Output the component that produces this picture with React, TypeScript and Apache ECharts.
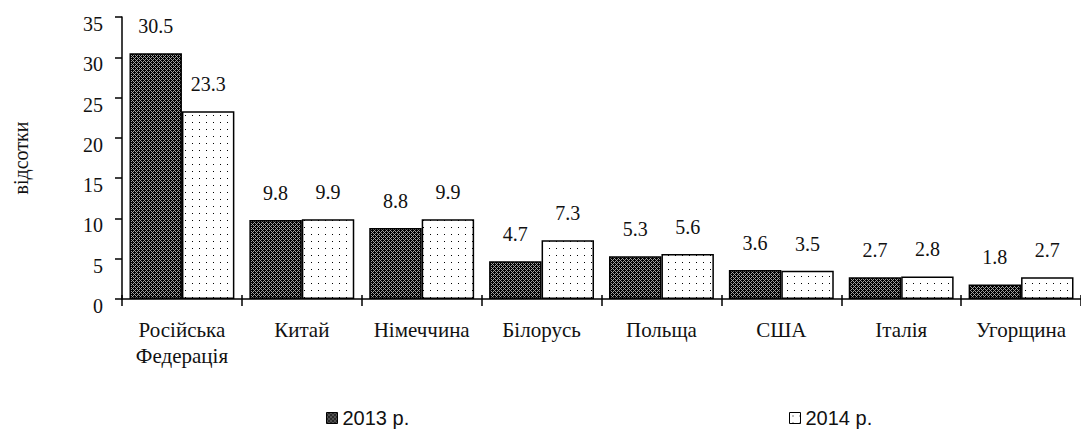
import React, { useEffect, useRef } from "react";
import * as echarts from "echarts";

const categories = ["Російська\nФедерація", "Китай", "Німеччина", "Білорусь", "Польща", "США", "Італія", "Угорщина"];
const values2013 = [30.5, 9.8, 8.8, 4.7, 5.3, 3.6, 2.7, 1.8];
const values2014 = [23.3, 9.9, 9.9, 7.3, 5.6, 3.5, 2.8, 2.7];
const seriesNames = ["2013 р.", "2014 р."];
const yTicks = { min: 0, max: 35, interval: 5 };

function darkPattern(): HTMLCanvasElement {
  const c = document.createElement("canvas");
  c.width = 4;
  c.height = 4;
  const ctx = c.getContext("2d")!;
  ctx.fillStyle = "#000";
  ctx.fillRect(0, 0, 4, 4);
  ctx.fillStyle = "#a0a0a0";
  for (let x = 0; x < 4; x++) {
    for (let y = 0; y < 4; y++) {
      if ((x + y) % 4 === 0 || (x - y + 4) % 4 === 0) ctx.fillRect(x, y, 1, 1);
    }
  }
  return c;
}

function dotPattern(): HTMLCanvasElement {
  const c = document.createElement("canvas");
  c.width = 7;
  c.height = 7;
  const ctx = c.getContext("2d")!;
  ctx.fillStyle = "#fff";
  ctx.fillRect(0, 0, 7, 7);
  ctx.fillStyle = "#000";
  ctx.fillRect(3, 3, 1, 1);
  return c;
}

export default function App() {
  const ref = useRef<HTMLDivElement>(null);
  useEffect(() => {
    if (!ref.current) return;
    const chart = echarts.init(ref.current, undefined, { renderer: "svg" });
    const serif = "Liberation Serif";
    const sans = "Liberation Sans";
    const pats = [
      { image: darkPattern(), repeat: "repeat" },
      { image: dotPattern(), repeat: "repeat" },
    ];
    const mk = (name: string, data: number[], i: number) => ({
      name,
      type: "bar",
      data,
      barGap: "0%",
      barCategoryGap: "12.5%",
      itemStyle: { color: pats[i] as any, borderColor: "#000", borderWidth: 1.5 },
      label: {
        show: true,
        position: "top",
        distance: 17,
        fontFamily: serif,
        fontSize: 20,
        color: "#111",
        formatter: (p: any) => Number(p.value).toFixed(1),
      },
    });
    const legendBase = {
      top: 403,
      itemWidth: 11,
      itemHeight: 11,
      icon: "rect",
      itemGap: 5,
      itemStyle: { borderColor: "#000", borderWidth: 1 },
      textStyle: { fontFamily: sans, fontSize: 20, color: "#111" },
    };
    chart.setOption({
      animation: false,
      backgroundColor: "#fff",
      grid: { left: 122, right: 0, top: 17, bottom: 131 },
      legend: [
        { ...legendBase, data: [seriesNames[0]], left: 321 },
        { ...legendBase, data: [seriesNames[1]], left: 784 },
      ],
      xAxis: [
        {
          type: "category",
          position: "bottom",
          data: categories,
          axisLine: { lineStyle: { color: "#000", width: 1.5 } },
          axisTick: { show: true, length: 7, lineStyle: { color: "#000", width: 1.5 } },
          axisLabel: { interval: 0, fontFamily: serif, fontSize: 21, color: "#111", margin: 18, lineHeight: 26 },
        },
        {
          type: "category",
          position: "bottom",
          data: categories,
          axisLine: { show: false },
          axisTick: { show: true, inside: true, length: 4, lineStyle: { color: "#000", width: 1.5 } },
          axisLabel: { show: false },
        },
      ],
      yAxis: {
        type: "value",
        min: yTicks.min,
        max: yTicks.max,
        interval: yTicks.interval,
        name: "відсотки",
        nameLocation: "middle",
        nameRotate: 90,
        nameGap: 91,
        nameTextStyle: { fontFamily: serif, fontSize: 20, color: "#111" },
        splitLine: { show: false },
        axisLine: { show: true, lineStyle: { color: "#000", width: 1.5 } },
        axisTick: { show: true, length: 7, lineStyle: { color: "#000", width: 1.5 } },
        axisLabel: { fontFamily: serif, fontSize: 20, color: "#111", margin: 19, verticalAlign: "top", lineHeight: 14 },
      },
      series: [mk(seriesNames[0], values2013, 0), mk(seriesNames[1], values2014, 1)],
    });
    return () => chart.dispose();
  }, []);
  return <div ref={ref} style={{ position: "fixed", left: 0, top: 0, width: 1081, height: 430 }} />;
}
